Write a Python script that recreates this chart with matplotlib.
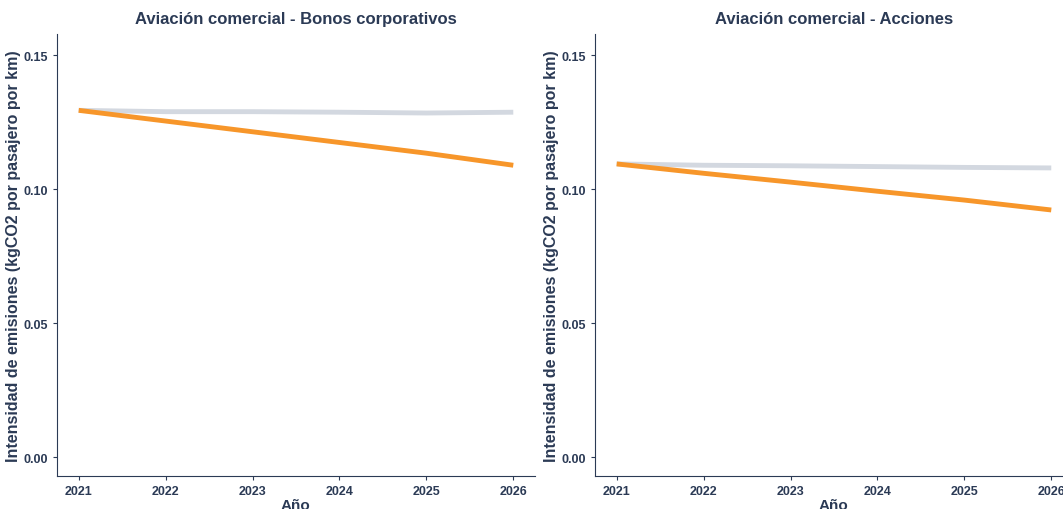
import matplotlib
matplotlib.use("Agg")
import matplotlib.pyplot as plt

plt.rcParams['font.family'] = ['Liberation Sans', 'DejaVu Sans']

years = [2021, 2022, 2023, 2024, 2025, 2026]
bonds_grey = [0.1295, 0.1290, 0.1290, 0.1288, 0.1285, 0.1288]
bonds_orange = [0.1295, 0.1255, 0.1215, 0.1175, 0.1135, 0.1090]
eq_grey = [0.1095, 0.1090, 0.1088, 0.1085, 0.1082, 0.1080]
eq_orange = [0.1095, 0.1060, 0.1027, 0.0993, 0.0960, 0.0923]
titles = ["Aviación comercial - Bonos corporativos", "Aviación comercial - Acciones"]
yticks = [0.00, 0.05, 0.10, 0.15]
C = "#2b3a55"

fig = plt.figure(figsize=(10.63, 5.10), dpi=100)
positions = [[0.0536, 0.0647, 0.4497, 0.8667], [0.5597, 0.0647, 0.4497, 0.8667]]
for pos, title, g, o in zip(positions, titles, [bonds_grey, eq_grey], [bonds_orange, eq_orange]):
    ax = fig.add_axes(pos)
    ax.plot(years, g, color="#d3d8e0", lw=3.5, solid_capstyle="butt")
    ax.plot(years, o, color="#f7962a", lw=3.5, solid_capstyle="butt")
    ax.set_xlim(2020.75, 2026.25)
    ax.set_ylim(-0.007, 0.158)
    ax.set_xticks(years)
    ax.set_yticks(yticks)
    ax.set_yticklabels([f"{v:.2f}" for v in yticks])
    for s in ["top", "right"]:
        ax.spines[s].set_visible(False)
    for s in ["left", "bottom"]:
        ax.spines[s].set_color(C)
    ax.tick_params(colors=C, labelsize=9, length=3)
    for lab in ax.get_xticklabels() + ax.get_yticklabels():
        lab.set_fontweight("bold")
    ax.set_title(title, fontsize=12, fontweight="bold", color=C, pad=8)
    ax.set_xlabel("Año", fontsize=11, fontweight="bold", color=C, labelpad=1)
    ax.set_ylabel("Intensidad de emisiones (kgCO2 por pasajero por km)", fontsize=11.5,
                  fontweight="bold", color=C, labelpad=2)
fig.savefig("out.png", dpi=100)
